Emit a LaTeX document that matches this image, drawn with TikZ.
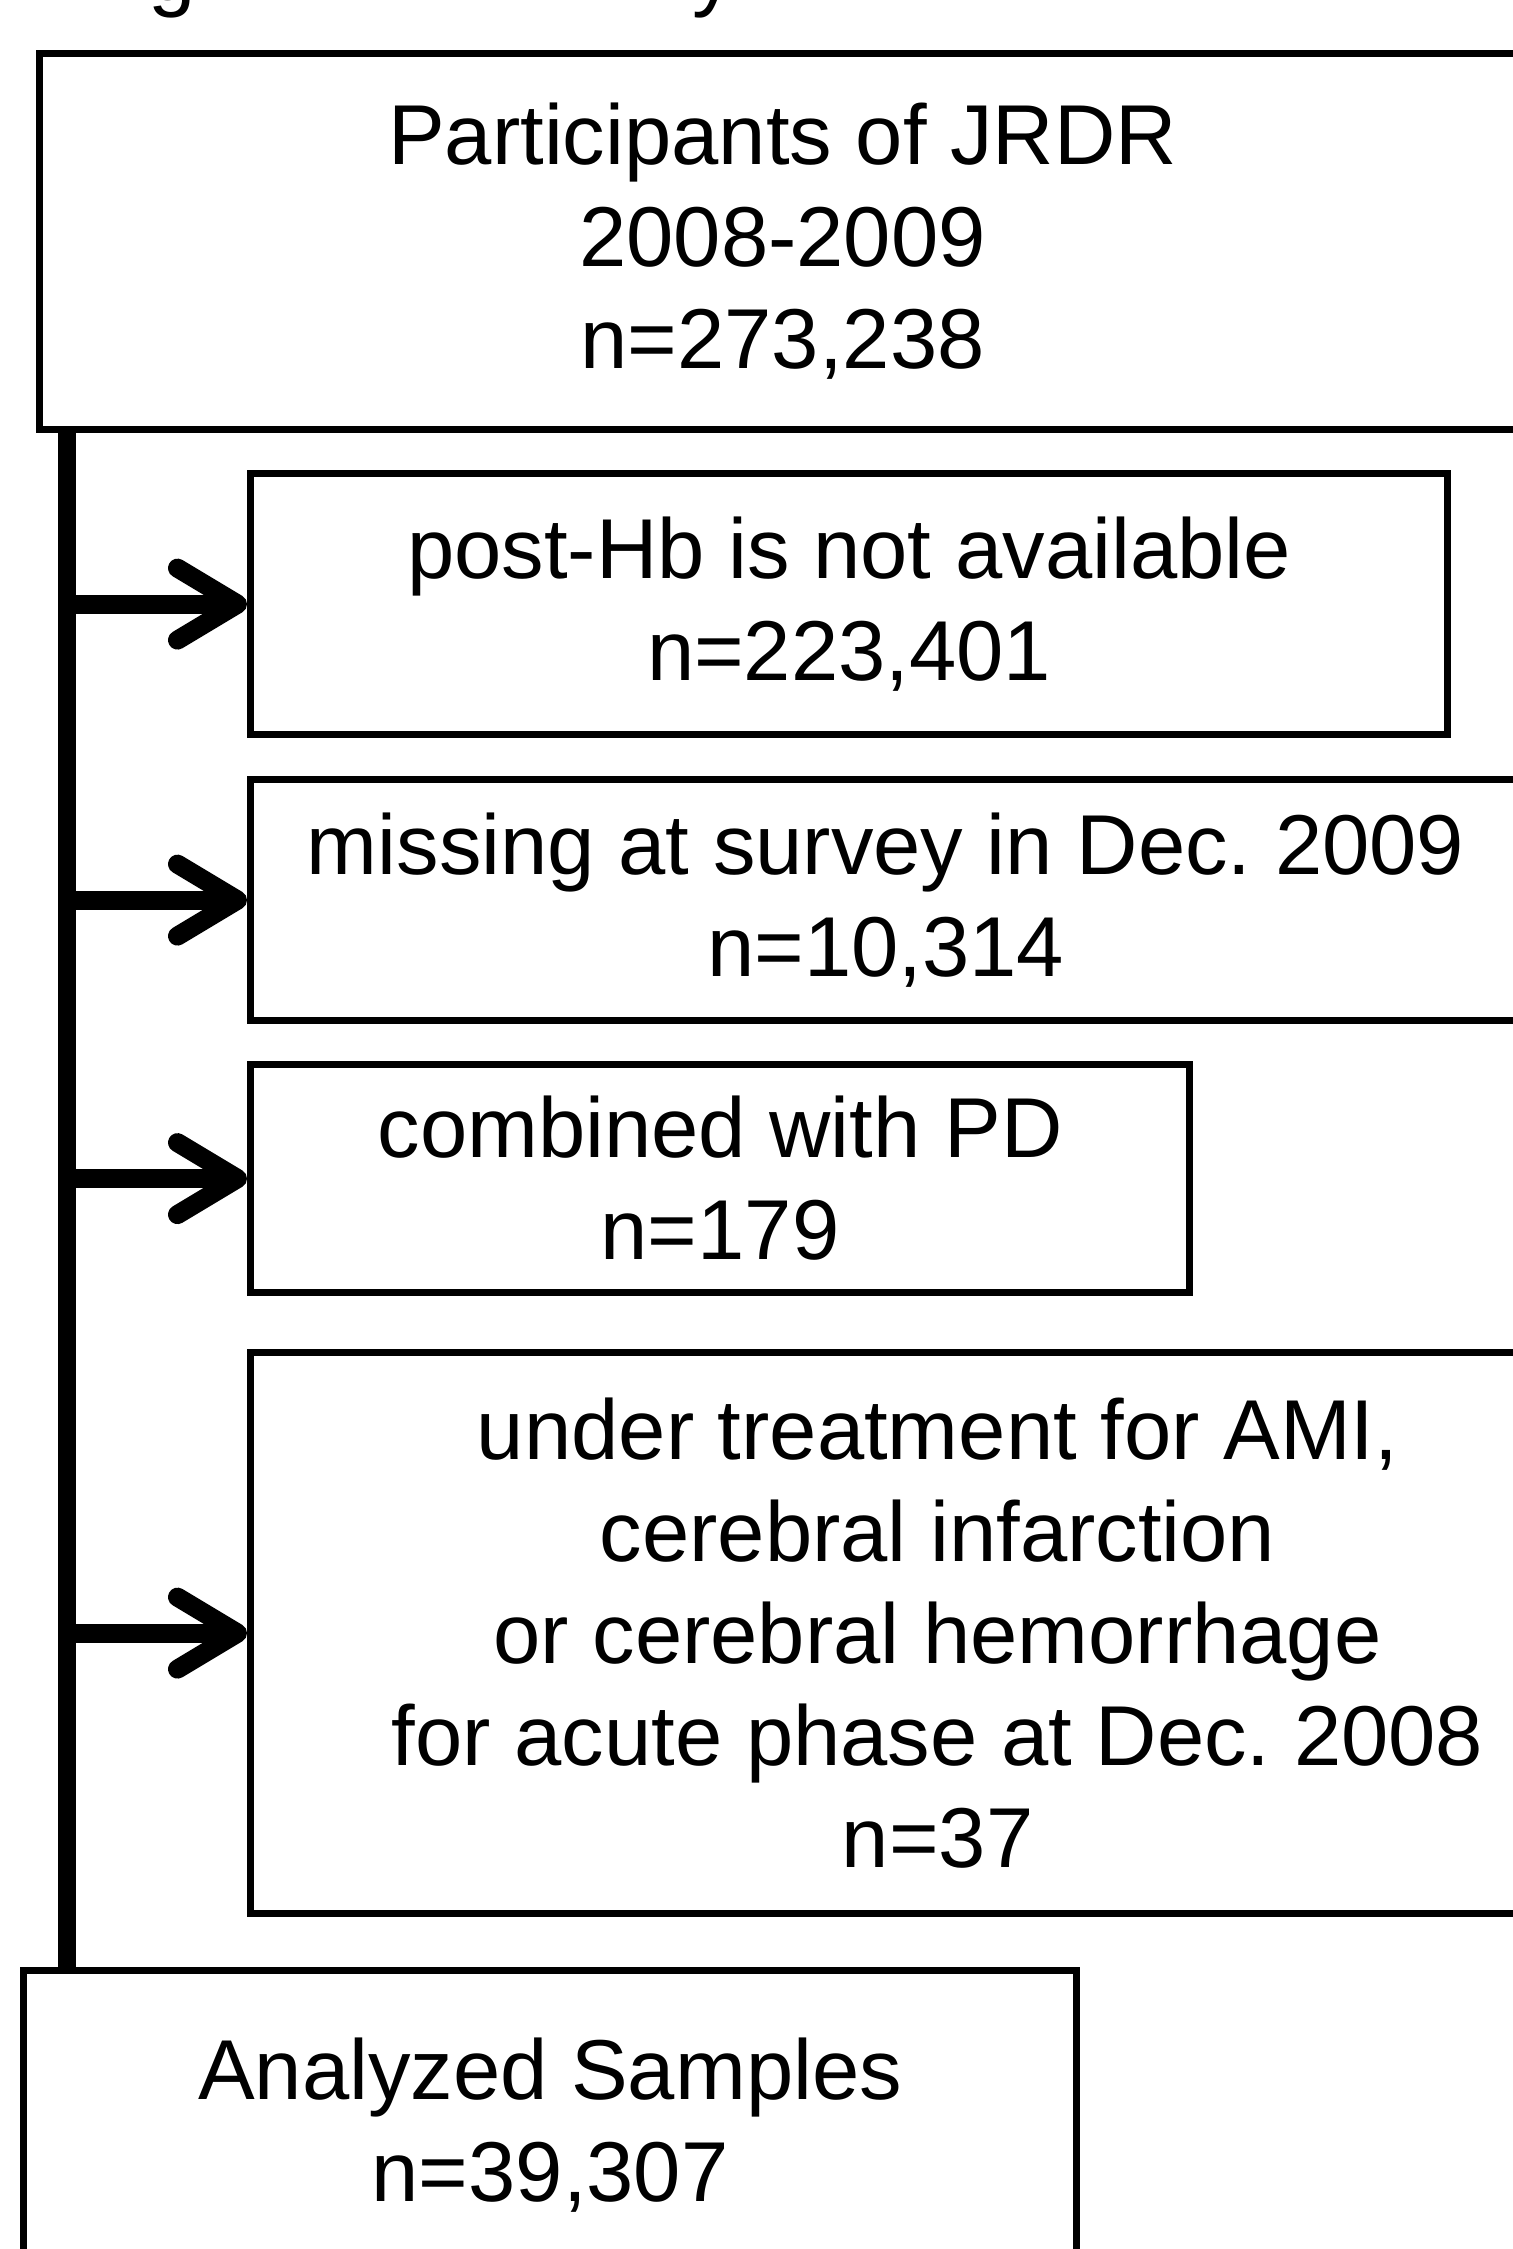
\documentclass[tikz,border=0pt]{standalone}
\usepackage{fontspec}
\setmainfont{Liberation Sans}
\usetikzlibrary{arrows.meta}
\frenchspacing
\tikzset{
  box/.style={draw=black, line width=3.6pt, fill=white, inner sep=0pt, align=center,
              anchor=north west, font=\fontsize{42.5}{51}\selectfont},
  trunk/.style={line width=9pt, line cap=butt},
  arr/.style={line width=9.5pt, -{Straight Barb[length=30pt, width=36pt, round]}},
  titlefrag/.style={inner sep=0pt, anchor=base west, font=\fontsize{42.5}{51}\selectfont}
}
\begin{document}
\begin{tikzpicture}[x=0.5pt, y=-0.5pt]
\useasboundingbox (0,0) rectangle (1513,2249);
% fragments of a title cut off by the top edge
\node[titlefrag] (tg) at (148,0) {g};
\node[titlefrag] (ty) at (692,0) {y};
% boxes (positions in pixels: left, top; size in pt = px/2)
\node[box, minimum width=743pt, minimum height=188pt] (top) at (36,50)
  {Participants of JRDR\\2008-2009\\n=273,238};
\node[box, minimum width=598.5pt, minimum height=130.5pt] (b2) at (247,470)
  {post-Hb is not available\\n=223,401};
\node[box, minimum width=635pt, minimum height=120.5pt] (b3) at (247,776)
  {missing at survey in Dec. 2009\\n=10,314};
\node[box, minimum width=469.5pt, minimum height=114pt] (b4) at (247,1061)
  {combined with PD\\n=179};
\node[box, minimum width=687pt, minimum height=280.5pt] (b5) at (247,1349)
  {under treatment for AMI,\\cerebral infarction\\or cerebral hemorrhage\\for acute phase at Dec. 2008\\n=37};
\node[box, minimum width=526.5pt, minimum height=155pt] (ana) at (20,1967)
  {Analyzed Samples\\n=39,307};
% connectors
\coordinate (tr) at (67,0);
\draw[trunk] (top.south -| tr) -- (ana.north -| tr);
\draw[arr] (b2.west -| tr) -- (b2.west);
\draw[arr] (b3.west -| tr) -- (b3.west);
\draw[arr] (b4.west -| tr) -- (b4.west);
\draw[arr] (b5.west -| tr) -- (b5.west);
\end{tikzpicture}
\end{document}
